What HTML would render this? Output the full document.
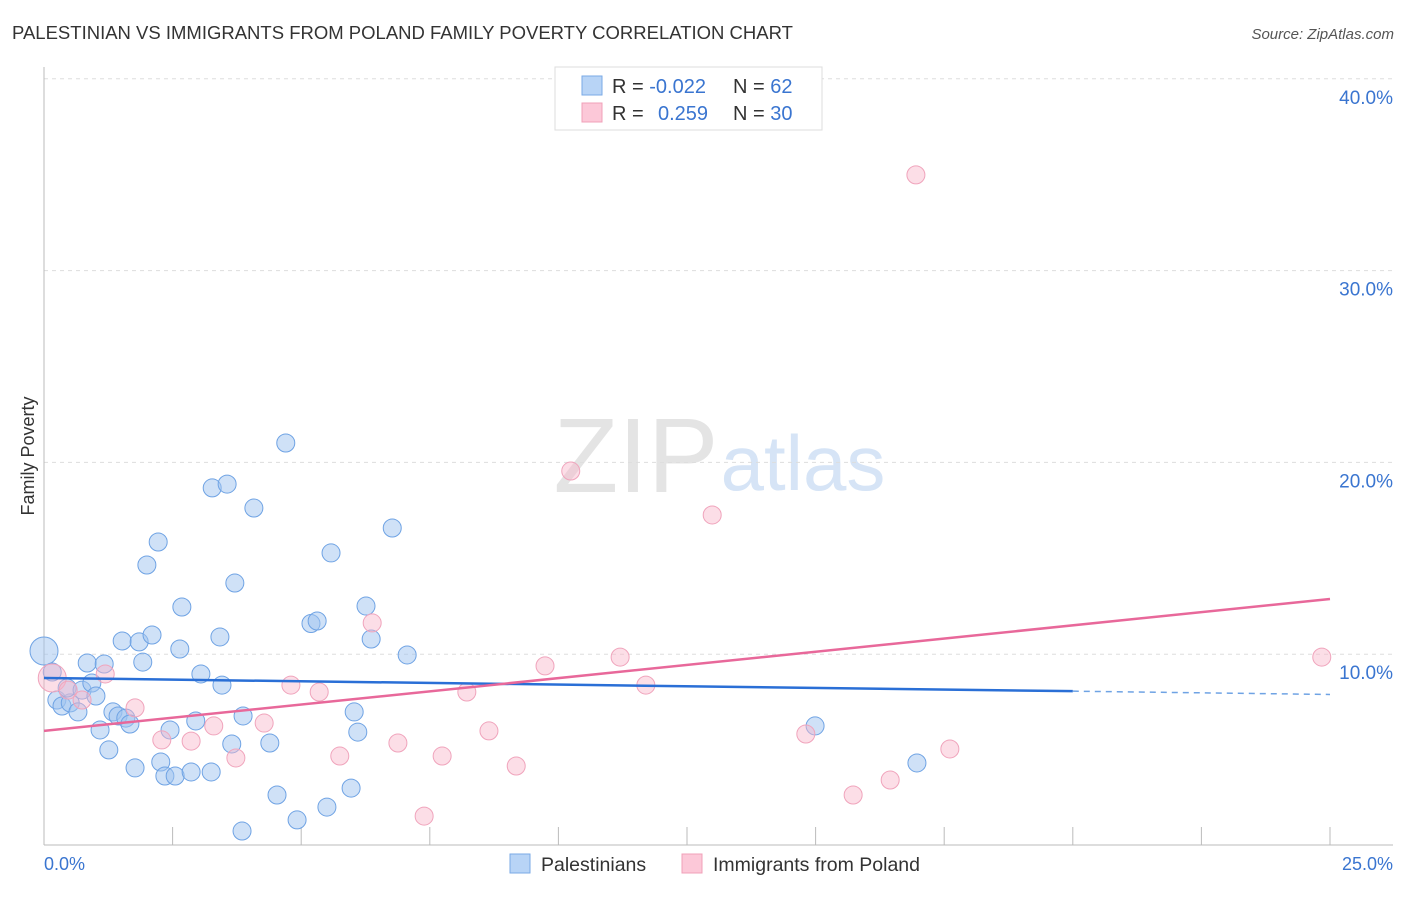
<!DOCTYPE html>
<html><head><meta charset="utf-8"><style>
body{margin:0;background:#fff;font-family:"Liberation Sans",sans-serif}
svg text{font-family:"Liberation Sans",sans-serif}
</style></head><body>
<svg width="1406" height="892" viewBox="0 0 1406 892">
<text x="12" y="39" font-size="18.5" fill="#333">PALESTINIAN VS IMMIGRANTS FROM POLAND FAMILY POVERTY CORRELATION CHART</text>
<text x="1394" y="39" font-size="15" fill="#555" font-style="italic" text-anchor="end">Source: ZipAtlas.com</text>
<text x="636" y="492" font-size="106" fill="#e4e4e4" font-family="Liberation Serif" text-anchor="middle">ZIP</text>
<text x="803" y="490" font-size="78" fill="#d6e4f6" text-anchor="middle">atlas</text>
<g id="grid"></g>
<line x1="44" y1="67" x2="44" y2="845" stroke="#bbb"/>
<line x1="44" y1="845" x2="1393" y2="845" stroke="#bbb"/>
<g id="ticks"></g>
<text x="34" y="456" font-size="18" fill="#333" text-anchor="middle" transform="rotate(-90 34 456)">Family Poverty</text>
<text x="44" y="870" font-size="18" fill="#3a75d0">0.0%</text>
<text x="1393" y="870" font-size="18" fill="#3a75d0" text-anchor="end">25.0%</text>
<g id="pts"></g>
<g id="lines"></g>
<g>
<rect x="555" y="67" width="267" height="63" fill="#fff" stroke="#ddd"/>
<rect x="582" y="76" width="20" height="19" fill="#b8d4f6" stroke="#7aaae6"/>
<rect x="582" y="103" width="20" height="19" fill="#fcc8d8" stroke="#f0a0b8"/>
<text x="612" y="93" font-size="20" fill="#333">R = <tspan fill="#3a75d0">-0.022</tspan><tspan x="733">N = </tspan><tspan fill="#3a75d0">62</tspan></text>
<text x="612" y="120" font-size="20" fill="#333">R = <tspan x="658" fill="#3a75d0">0.259</tspan><tspan x="733">N = </tspan><tspan fill="#3a75d0">30</tspan></text>
</g>
<g>
<rect x="510" y="854" width="20" height="19" fill="#b8d4f6" stroke="#7aaae6"/>
<text x="541" y="871" font-size="19.5" fill="#333">Palestinians</text>
<rect x="682" y="854" width="20" height="19" fill="#fcc8d8" stroke="#f0a0b8"/>
<text x="713" y="871" font-size="19.5" fill="#333">Immigrants from Poland</text>
</g>
</svg>
<script>
const blueX=[0.00,0.16,0.25,0.35,0.51,0.45,0.66,0.74,0.84,0.93,1.01,1.09,1.17,1.26,1.34,1.44,1.52,1.59,1.67,1.77,1.85,1.92,2.00,2.10,2.22,2.27,2.35,2.45,2.55,2.64,2.68,2.86,2.95,3.05,3.27,3.25,3.42,3.46,3.56,3.65,3.71,3.85,3.87,4.08,4.39,4.53,4.70,4.92,5.19,5.31,5.50,5.58,5.97,6.03,6.10,6.26,6.36,6.77,7.06,14.99,16.97];
const blueY=[10.17,9.07,7.61,7.30,7.46,8.24,6.99,8.13,9.54,8.50,7.82,6.05,9.49,5.01,6.99,6.78,10.69,6.67,6.36,4.07,10.64,9.59,14.65,11.00,15.85,4.38,3.65,6.05,3.65,10.27,12.46,3.86,6.52,8.97,18.67,3.86,10.90,8.39,18.87,5.32,13.71,0.78,6.78,17.62,5.37,2.66,21.01,1.36,11.60,11.73,2.03,15.28,3.02,6.99,5.94,12.51,10.79,16.58,9.96,6.26,4.33];
const pinkX=[0.16,0.47,0.74,1.19,1.77,2.29,2.86,3.30,3.73,4.28,4.80,5.35,5.75,6.38,6.88,7.39,7.74,8.22,8.65,9.18,9.74,10.24,11.20,11.70,12.99,14.81,15.73,16.45,16.95,17.61,24.84];
const pinkY=[8.76,8.13,7.61,8.97,7.20,5.53,5.47,6.26,4.59,6.41,8.39,8.03,4.69,11.63,5.37,1.56,4.69,8.03,6.00,4.17,9.39,19.55,9.85,8.39,17.26,5.84,2.66,3.44,34.99,5.06,9.85];
const yTicks=[10,20,30,40];
const yTickLabels=["10.0%","20.0%","30.0%","40.0%"];
const xTicks=[2.5,5,7.5,10,12.5,15,17.5,20,22.5,25];
const blueTrend=[8.76,7.9];
const pinkTrend=[6.0,12.88];
const NS="http://www.w3.org/2000/svg";
const sx=v=>44+v/25*1286, sy=v=>846-v/40*767.2;
function mk(tag,attrs,parent){const e=document.createElementNS(NS,tag);for(const k in attrs)e.setAttribute(k,attrs[k]);document.getElementById(parent).appendChild(e);return e;}
yTicks.forEach((t,i)=>{
 const l=mk('line',{x1:44,x2:1393,y1:sy(t),y2:sy(t),stroke:'#ddd','stroke-dasharray':'4,4'},'grid');
 
 
 const tx=mk('text',{x:1393,y:sy(t)+25,'font-size':19,fill:'#3a75d0','text-anchor':'end'},'grid');
 tx.textContent=yTickLabels[i];
 
 
});
xTicks.forEach(t=>{
 const l=mk('line',{x1:sx(t),x2:sx(t),y1:827,y2:845,stroke:'#bbb'},'ticks');
 
 
});
function pts(X,Y,fill,stroke,name){X.forEach((x,i)=>{
 const r=(i===0)?14:9;
 const c=mk('circle',{cx:sx(x),cy:sy(Y[i]),r:r,fill:fill,stroke:stroke,'stroke-width':1},'pts');
 
 
});}
pts(blueX,blueY,'rgba(160,196,240,0.5)','#6fa3e4','palestinian-point');
pts(pinkX,pinkY,'rgba(248,182,202,0.45)','#f0a4bc','poland-point');
const bm=blueTrend[0]+(blueTrend[1]-blueTrend[0])*0.8;
const b1=mk('line',{x1:sx(0),y1:sy(blueTrend[0]),x2:sx(20),y2:sy(bm),stroke:'#2a6fd6','stroke-width':2.5},'lines');


const b2=mk('line',{x1:sx(20),y1:sy(bm),x2:sx(25),y2:sy(blueTrend[1]),stroke:'#6fa3e4','stroke-width':1.5,'stroke-dasharray':'6,5'},'lines');


const p1=mk('line',{x1:sx(0),y1:sy(pinkTrend[0]),x2:sx(25),y2:sy(pinkTrend[1]),stroke:'#e8689a','stroke-width':2.5},'lines');


</script>
</body></html>
